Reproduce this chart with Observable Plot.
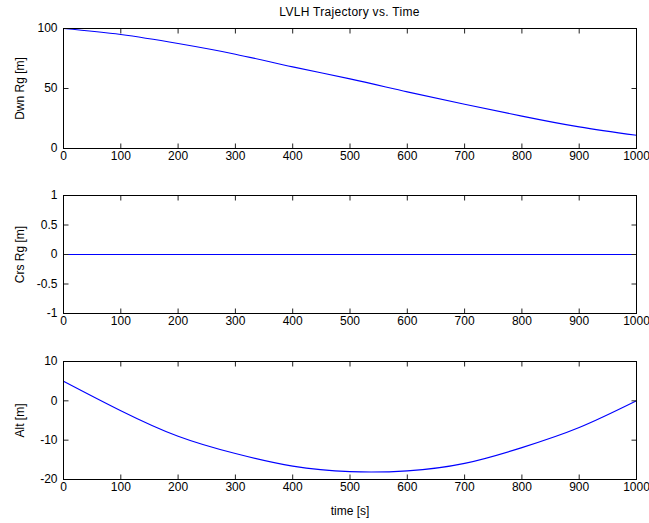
<!DOCTYPE html>
<html><head><meta charset="utf-8">
<script src="https://cdn.jsdelivr.net/npm/d3@7"></script>
<script src="https://cdn.jsdelivr.net/npm/@observablehq/plot@0.6"></script>
<style>
html,body{margin:0;padding:0;background:#fff;}
#page{position:relative;width:649px;height:523px;overflow:hidden;font-family:"Liberation Sans",Arial,sans-serif;}
#title{position:absolute;top:5px;left:63px;width:573px;text-align:center;font-size:12px;letter-spacing:0.3px;line-height:14px;color:#000;}
#page svg{display:block;}
</style></head><body><div id="page"><div id="title">LVLH Trajectory vs. Time</div><div style="height:20px"></div></div>
<script>
const time       = [0, 100, 200, 300, 400, 500, 600, 700, 800, 900, 1000];
const downRange  = [100, 95, 87.5, 78.6, 68, 58, 47.2, 36.9, 27, 18, 11];
const crossRange = [0, 0, 0, 0, 0, 0, 0, 0, 0, 0, 0];
const altitude   = [5, -2.5, -9, -13.4, -16.6, -18, -17.8, -15.9, -11.9, -6.8, 0];
const xTicks     = [0, 100, 200, 300, 400, 500, 600, 700, 800, 900, 1000];
const downTicks  = [0, 50, 100];
const crossTicks = [-1, -0.5, 0, 0.5, 1];
const altTicks   = [-20, -10, 0, 10];

const ink = "#000";
const fmt = d => String(d);
const W = 649, ML = 63, MR = 13, TL = 5;
function panel({values, yDomain, yTicks, label, height, marginTop, marginBottom, xLabel}) {
  const data = time.map((t, i) => ({t, v: values[i]}));
  const plotH = height - marginTop - marginBottom;
  const plotW = W - ML - MR;
  const [y0, y1] = yDomain;
  const dyT = (y1 - y0) * TL / plotH;
  const dxT = 1000 * TL / plotW;
  const xt = xTicks.map(x => ({x}));
  const yt = yTicks.map(y => ({y}));
  return Plot.plot({
    width: W, height, marginLeft: ML, marginRight: MR, marginTop, marginBottom,
    style: {fontFamily: "Liberation Sans, Arial, sans-serif", fontSize: "11px", color: ink, background: "#fff", overflow: "visible"},
    x: {domain: [0, 1000]},
    y: {domain: yDomain},
    marks: [
      Plot.line(data, {x: "t", y: "v", stroke: "#0000ff", strokeWidth: 1.1, curve: "natural"}),
      Plot.link(xt, {x1: "x", x2: "x", y1: () => y0, y2: () => y0 + dyT, stroke: "#222", strokeWidth: 1}),
      Plot.link(xt, {x1: "x", x2: "x", y1: () => y1, y2: () => y1 - dyT, stroke: "#222", strokeWidth: 1}),
      Plot.link(yt, {y1: "y", y2: "y", x1: () => 0, x2: () => dxT, stroke: "#222", strokeWidth: 1}),
      Plot.link(yt, {y1: "y", y2: "y", x1: () => 1000, x2: () => 1000 - dxT, stroke: "#222", strokeWidth: 1}),
      Plot.frame({stroke: ink}),
      Plot.axisX(xTicks, {anchor: "bottom", tickSize: 0, tickPadding: 3, fontSize: 12, tickFormat: fmt, label: xLabel ?? null, labelAnchor: "center", labelArrow: "none", labelOffset: 35}),
      Plot.axisY(yTicks, {anchor: "left", tickSize: 0, tickPadding: 6, fontSize: 12, tickFormat: fmt, label, labelAnchor: "center", labelArrow: "none", labelOffset: 48})
    ]
  });
}
const page = document.getElementById("page");
page.append(panel({values: downRange, yDomain: [0, 100], yTicks: downTicks, label: "Dwn Rg [m]", height: 158, marginTop: 8, marginBottom: 30}));
page.append(panel({values: crossRange, yDomain: [-1, 1], yTicks: crossTicks, label: "Crs Rg [m]", height: 165, marginTop: 17, marginBottom: 30}));
page.append(panel({values: altitude, yDomain: [-20, 10], yTicks: altTicks, label: "Alt [m]", height: 180, marginTop: 18, marginBottom: 44, xLabel: "time [s]"}));
</script></body></html>
